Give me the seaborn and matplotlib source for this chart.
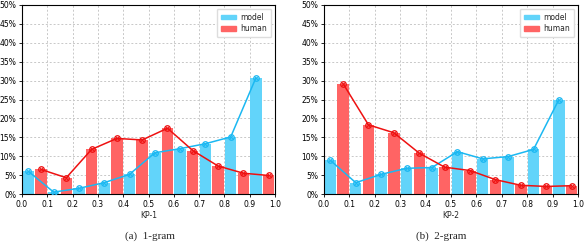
import numpy as np
import pandas as pd
import matplotlib
matplotlib.use("Agg")
import matplotlib.pyplot as plt
import seaborn as sns
from matplotlib.ticker import FuncFormatter, MultipleLocator
from matplotlib.patches import Patch

model_x = [0.025, 0.125, 0.225, 0.325, 0.425, 0.525, 0.625, 0.725, 0.825, 0.925]
human_x = [0.075, 0.175, 0.275, 0.375, 0.475, 0.575, 0.675, 0.775, 0.875, 0.975]

kp1_model = [6.0, 0.5, 1.5, 3.0, 5.2, 10.9, 12.0, 13.3, 15.1, 30.8]
kp1_human = [6.5, 4.3, 11.8, 14.7, 14.3, 17.4, 11.5, 7.4, 5.5, 4.9]
kp2_model = [8.9, 3.0, 5.2, 6.8, 7.0, 11.2, 9.3, 9.9, 11.8, 25.0]
kp2_human = [29.2, 18.3, 16.2, 10.8, 7.1, 6.2, 3.8, 2.3, 2.0, 2.2]

xlabels = ["KP-1", "KP-2"]
captions = ["(a)  1-gram", "(b)  2-gram"]

sns.set_theme(style="ticks")
plt.rcParams['font.family'] = ['DejaVu Sans']

bar_model = "#62D4FA"
bar_human = "#FF6464"
line_model = "#1BB8F2"
line_human = "#EE1111"

fig = plt.figure(figsize=(5.84, 2.42), dpi=100)
ax1 = fig.add_axes([22/584, 1-194/242, (275-22)/584, (194-5)/242])
ax2 = fig.add_axes([324/584, 1-194/242, (578-324)/584, (194-5)/242])

panels = [(ax1, kp1_model, kp1_human), (ax2, kp2_model, kp2_human)]
for i, (ax, m, h) in enumerate(panels):
    dm = pd.DataFrame({"x": model_x, "y": m})
    dh = pd.DataFrame({"x": human_x, "y": h})
    ax.grid(True, linestyle=(0, (2, 2)), color="#c8c8c8", linewidth=0.7, zorder=0)
    ax.set_axisbelow(True)
    sns.barplot(data=dm, x="x", y="y", native_scale=True, width=0.45,
                color=bar_model, saturation=1, ax=ax, linewidth=0, zorder=2)
    sns.barplot(data=dh, x="x", y="y", native_scale=True, width=0.45,
                color=bar_human, saturation=1, ax=ax, linewidth=0, zorder=2)
    for d, c in [(dm, line_model), (dh, line_human)]:
        sns.lineplot(data=d, x="x", y="y", ax=ax, color=c, linewidth=1.1,
                     marker="o", markersize=4, markerfacecolor="none",
                     markeredgecolor=c, markeredgewidth=0.9, zorder=3)
        sns.lineplot(data=d, x="x", y="y", ax=ax, color=c, linestyle="none",
                     marker="x", markersize=3, markeredgecolor=c,
                     markeredgewidth=0.7, zorder=4)
    ax.set_xlim(0, 1.0)
    ax.set_ylim(0, 50)
    ax.xaxis.set_major_locator(MultipleLocator(0.1))
    ax.yaxis.set_major_locator(MultipleLocator(5))
    ax.xaxis.set_major_formatter(FuncFormatter(lambda v, p: f"{v:.1f}"))
    ax.yaxis.set_major_formatter(FuncFormatter(lambda v, p: f"{v:.0f}%"))
    ax.tick_params(labelsize=5.5, length=2.5, width=0.6, pad=1.5, colors="black")
    ax.set_xlabel(xlabels[i], fontsize=5.5, labelpad=2)
    ax.set_ylabel("")
    for s in ax.spines.values():
        s.set_visible(True)
        s.set_color("black")
        s.set_linewidth(0.8)
    handles = [Patch(color=bar_model, label="model"), Patch(color=bar_human, label="human")]
    ax.legend(handles=handles, loc="upper right", fontsize=5.5, frameon=True,
              handlelength=2.0, handleheight=0.6, borderpad=0.5, labelspacing=0.35,
              handletextpad=0.6, edgecolor="#dddddd", fancybox=True, framealpha=1)

fig.text(150/584, 1-236/242, captions[0], ha="center", va="center",
         fontsize=8, family="Liberation Serif")
fig.text(441/584, 1-236/242, captions[1], ha="center", va="center",
         fontsize=8, family="Liberation Serif")

fig.savefig("out.png", dpi=100)
